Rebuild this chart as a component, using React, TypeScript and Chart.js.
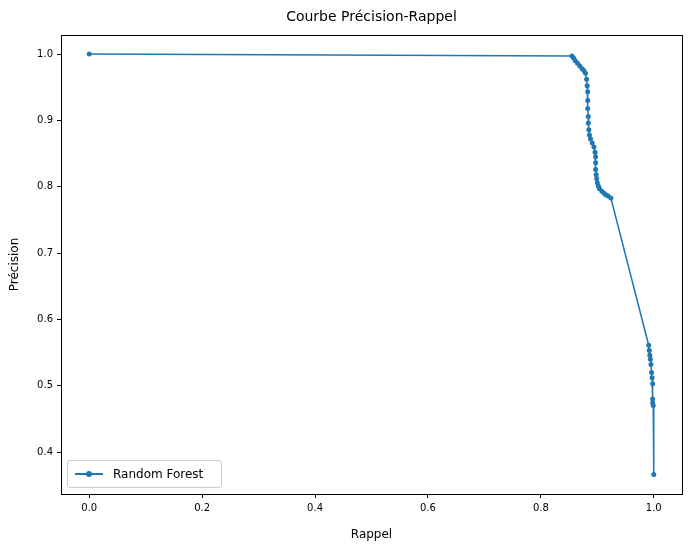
import React, { useEffect, useRef } from "react";
import { Chart, registerables } from "chart.js";
Chart.register(...registerables);

const recall = [0, 0.855, 0.858, 0.861, 0.865, 0.869, 0.873, 0.876, 0.879, 0.881, 0.882, 0.883, 0.883, 0.883, 0.884, 0.884, 0.885, 0.886, 0.888, 0.891, 0.894, 0.896, 0.897, 0.897, 0.897, 0.898, 0.899, 0.900, 0.902, 0.904, 0.908, 0.912, 0.915, 0.919, 0.924, 0.991, 0.992, 0.993, 0.994, 0.995, 0.996, 0.997, 0.998, 0.998, 0.998, 0.999, 1.0];
const precision = [1.0, 0.997, 0.994, 0.99, 0.986, 0.982, 0.978, 0.975, 0.971, 0.962, 0.952, 0.943, 0.93, 0.918, 0.906, 0.896, 0.886, 0.878, 0.872, 0.866, 0.86, 0.852, 0.845, 0.836, 0.826, 0.818, 0.812, 0.806, 0.801, 0.797, 0.793, 0.79, 0.788, 0.786, 0.783, 0.561, 0.553, 0.546, 0.54, 0.532, 0.52, 0.512, 0.503, 0.48, 0.474, 0.47, 0.366];
const xTicks = [0, 0.2, 0.4, 0.6, 0.8, 1.0];
const yTicks = [0.4, 0.5, 0.6, 0.7, 0.8, 0.9, 1.0];
const COLOR = "#1f77b4";
const FONT = "DejaVu Sans";

const boxPlugin = {
  id: "box",
  afterDraw(chart: any) {
    const { ctx, chartArea: a } = chart;
    ctx.save();
    ctx.strokeStyle = "#000";
    ctx.lineWidth = 1;
    ctx.strokeRect(Math.round(a.left) + 0.5, Math.round(a.top) + 0.5, Math.round(a.right - a.left), Math.round(a.bottom - a.top));
    ctx.restore();
  },
};

export default function App() {
  const ref = useRef<HTMLCanvasElement>(null);
  useEffect(() => {
    document.body.style.margin = "0";
    const tickOpts = (fmt: (v: number) => string) => ({
      color: "#000",
      font: { family: FONT, size: 10 },
      padding: 4,
      callback: (v: any) => fmt(Number(v)),
    });
    const grid = { display: true, drawOnChartArea: false, drawTicks: true, tickLength: 4, color: "#000" };
    const chart = new Chart(ref.current!, {
      type: "line",
      data: {
        datasets: [{
          data: recall.map((r, i) => ({ x: r, y: precision[i] })),
          borderColor: COLOR, backgroundColor: COLOR, borderWidth: 1.5,
          pointRadius: 2.5, pointBorderWidth: 0, tension: 0,
        }],
      },
      options: {
        animation: false, responsive: false,
        layout: { padding: { top: 35, right: 9, left: 0, bottom: 0 } },
        plugins: { legend: { display: false }, tooltip: { enabled: false }, title: { display: false } },
        scales: {
          x: {
            type: "linear", min: -0.05, max: 1.05,
            afterBuildTicks: (s: any) => { s.ticks = xTicks.map(v => ({ value: v })); },
            afterFit: (s: any) => { s.height = 54; },
            ticks: tickOpts(v => v.toFixed(1)),
            grid, border: { color: "#000", width: 1 },
            title: { display: true, text: "Rappel", color: "#000", font: { family: FONT, size: 12 }, padding: { top: 2, bottom: 6 } },
          },
          y: {
            type: "linear", min: 0.3367, max: 1.0287,
            afterBuildTicks: (s: any) => { s.ticks = yTicks.map(v => ({ value: v })); },
            afterFit: (s: any) => { s.width = 61; },
            ticks: tickOpts(v => v.toFixed(1)),
            grid, border: { color: "#000", width: 1 },
            title: { display: true, text: "Précision", color: "#000", font: { family: FONT, size: 12 }, padding: { top: 8, bottom: 4 } },
          },
        },
      },
      plugins: [boxPlugin],
    });
    return () => chart.destroy();
  }, []);
  return (
    <div style={{ position: "relative", width: 691, height: 548, background: "#fff", fontFamily: FONT }}>
      <canvas ref={ref} width={691} height={548} />
      <div style={{ position: "absolute", top: 8, left: 61, width: 621, textAlign: "center", fontSize: 14, color: "#000" }}>Courbe Précision-Rappel</div>
      <div style={{ position: "absolute", left: 67, top: 460, width: 155, height: 28, border: "1px solid #ccc", borderRadius: 3, background: "rgba(255,255,255,0.8)", display: "flex", alignItems: "center", boxSizing: "border-box" }}>
        <div style={{ position: "relative", width: 28, height: 2, background: COLOR, marginLeft: 7 }}>
          <div style={{ position: "absolute", left: 11, top: -2, width: 6, height: 6, borderRadius: 3, background: COLOR }} />
        </div>
        <span style={{ marginLeft: 10, fontSize: 12, color: "#000" }}>Random Forest</span>
      </div>
    </div>
  );
}
